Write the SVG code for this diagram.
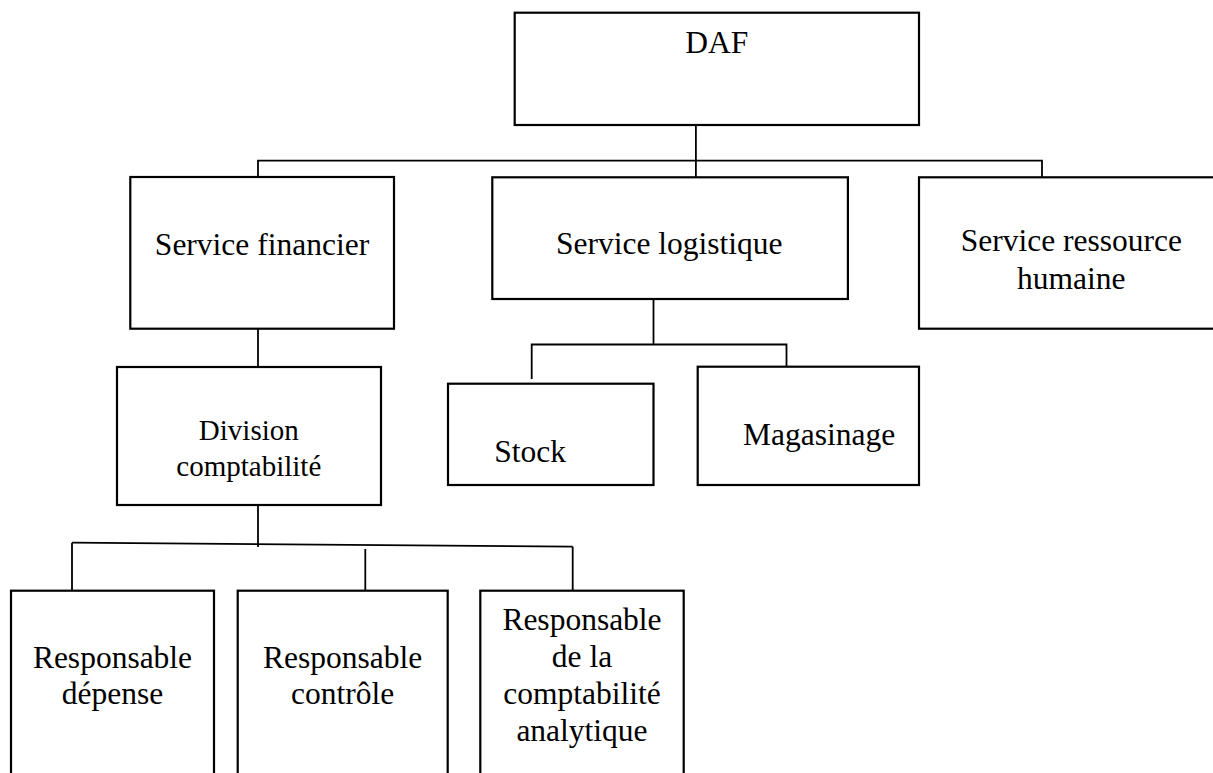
<svg xmlns="http://www.w3.org/2000/svg" width="1213" height="773" viewBox="0 0 1213 773">
<style>
.box{fill:#fff;stroke:#000;stroke-width:2.2}
.ln{fill:none;stroke:#000;stroke-width:1.8}
.t{font-family:"Liberation Serif","Times New Roman",serif;font-size:31.5px;fill:#000;text-anchor:middle}
.s{font-size:29px}
.l{text-anchor:start}
</style>
<rect width="1213" height="773" fill="#fff"/>
<g id="connectors">
<path class="ln" d="M695.9,125 V177.3"/>
<path class="ln" d="M258,177 V160.7 H1042 V177"/>
<path class="ln" d="M258,328.7 V367"/>
<path class="ln" d="M653.5,299 V344.5"/>
<path class="ln" d="M531.7,379 V344.5 H786.5 V366.7"/>
<path class="ln" d="M258,505 V547"/>
<path class="ln" d="M72,542.7 L572.7,546.7"/>
<path class="ln" d="M72,542.7 V590"/>
<path class="ln" d="M365.3,549 V590.7"/>
<path class="ln" d="M572.7,546.7 V590.7"/>
</g>
<g id="daf">
<rect class="box" x="514.7" y="12.7" width="404.3" height="112.3"/>
<text class="t" x="716.8" y="53">DAF</text>
</g>
<g id="service-financier">
<rect class="box" x="130.3" y="177" width="263.7" height="151.7"/>
<text class="t" x="262" y="255.3">Service financier</text>
</g>
<g id="service-logistique">
<rect class="box" x="492.3" y="177.3" width="355.6" height="121.7"/>
<text class="t" x="669.2" y="254">Service logistique</text>
</g>
<g id="service-rh">
<rect class="box" x="919" y="177.3" width="304" height="151.4"/>
<text class="t" x="1071.3" y="250.7">Service ressource</text>
<text class="t" x="1071.3" y="289.3">humaine</text>
</g>
<g id="division-comptabilite">
<rect class="box" x="117" y="367" width="264" height="138"/>
<text class="t s" x="248.8" y="440">Division</text>
<text class="t s" x="248.8" y="475.7">comptabilité</text>
</g>
<g id="stock">
<rect class="box" x="448" y="383.7" width="205.5" height="101.3"/>
<text class="t l" x="494.3" y="461.7">Stock</text>
</g>
<g id="magasinage">
<rect class="box" x="697.7" y="366.7" width="221.3" height="118.3"/>
<text class="t l" x="743" y="445">Magasinage</text>
</g>
<g id="responsable-depense">
<rect class="box" x="11" y="590.7" width="203" height="200"/>
<text class="t" x="112.5" y="667.7">Responsable</text>
<text class="t" x="112.5" y="704">dépense</text>
</g>
<g id="responsable-controle">
<rect class="box" x="237.7" y="590.7" width="210" height="200"/>
<text class="t" x="342.7" y="667.7">Responsable</text>
<text class="t" x="342.7" y="704">contrôle</text>
</g>
<g id="responsable-analytique">
<rect class="box" x="480.3" y="590.7" width="203.4" height="200"/>
<text class="t" x="582" y="630">Responsable</text>
<text class="t" x="582" y="666.7">de la</text>
<text class="t" x="582" y="704">comptabilité</text>
<text class="t" x="582" y="741">analytique</text>
</g>
</svg>
